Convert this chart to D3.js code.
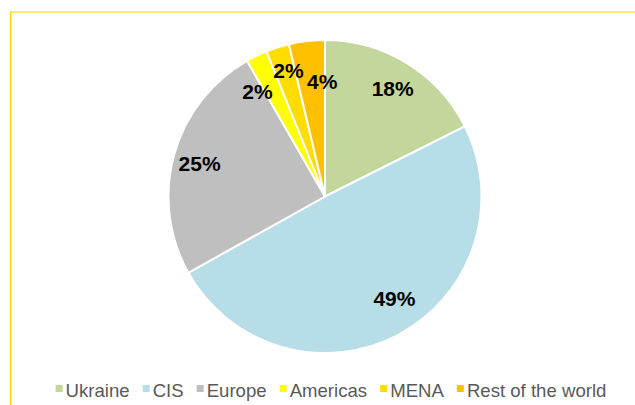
<!DOCTYPE html>
<html>
<head>
<meta charset="utf-8">
<script src="https://cdn.jsdelivr.net/npm/d3@7/dist/d3.min.js"></script>
<style>
  body { margin: 0; background: #fff; }
  svg { display: block; font-family: "Liberation Sans", Arial, sans-serif; }
</style>
</head>
<body>
<div id="chart"></div>
<script>
// Data (shares in %)
const regions = ["Ukraine", "CIS", "Europe", "Americas", "MENA", "Rest of the world"];
const shares = [17.6, 49.3, 24.8, 2.2, 2.4, 3.7];
const colors = ["#C3D69B", "#B7DEE8", "#BFBFBF", "#FFFF00", "#FFDD00", "#FFC000"];

// label nudges (Excel "best fit" moves the small ones around)
const labelNudge = [[1, 0], [10, -10], [-3, 1], [-12, 9], [2, -5], [12, 11]];

const width = 635;
const height = 405;
const cx = 325, cy = 196.5;
const radius = 156.5;

const svg = d3.select("#chart").append("svg")
    .attr("width", width)
    .attr("height", height);

// frame (only top and left edges visible)
svg.append("line")
    .attr("x1", 10).attr("y1", 12).attr("x2", width).attr("y2", 12)
    .attr("stroke", "#FFE04D").attr("stroke-width", 1.5);
svg.append("line")
    .attr("x1", 10.5).attr("y1", 12).attr("x2", 10.5).attr("y2", height)
    .attr("stroke", "#FFD700").attr("stroke-width", 1.5);

const pie = d3.pie().sort(null).value(d => d);
const arcs = pie(shares);

const arc = d3.arc().innerRadius(0).outerRadius(radius);
const labelArc = d3.arc().innerRadius(127).outerRadius(127);

const g = svg.append("g").attr("transform", `translate(${cx},${cy})`);

g.selectAll("path")
    .data(arcs)
    .enter().append("path")
    .attr("d", arc)
    .attr("fill", (d, i) => colors[i])
    .attr("stroke", "#fff")
    .attr("stroke-width", 2);

g.selectAll("text")
    .data(arcs)
    .enter().append("text")
    .attr("transform", (d, i) => {
        const c = labelArc.centroid(d);
        return `translate(${c[0] + labelNudge[i][0]},${c[1] + labelNudge[i][1]})`;
    })
    .attr("text-anchor", "middle")
    .attr("dy", "0.36em")
    .attr("font-size", 21)
    .attr("font-weight", "bold")
    .attr("fill", "#000")
    .text(d => Math.round(d.value) + "%");

// legend along the bottom
const legend = svg.append("g").attr("transform", "translate(0,390)");
const items = legend.selectAll("g")
    .data(regions)
    .enter().append("g");

items.append("rect")
    .attr("width", 7).attr("height", 7)
    .attr("y", -5)
    .attr("fill", (d, i) => colors[i]);

items.append("text")
    .attr("x", 10)
    .attr("dy", "0.36em")
    .attr("font-size", 18.6)
    .attr("fill", "#595959")
    .text(d => d);

// place items side by side, centred
let x = 0;
const offsets = [];
items.each(function() {
    const w = this.querySelector("text").getComputedTextLength();
    offsets.push(x);
    x += 10 + w + 13;
});
const total = x - 13;
const start = 331 - total / 2;
items.attr("transform", (d, i) => `translate(${start + offsets[i]},0)`);
</script>
</body>
</html>
